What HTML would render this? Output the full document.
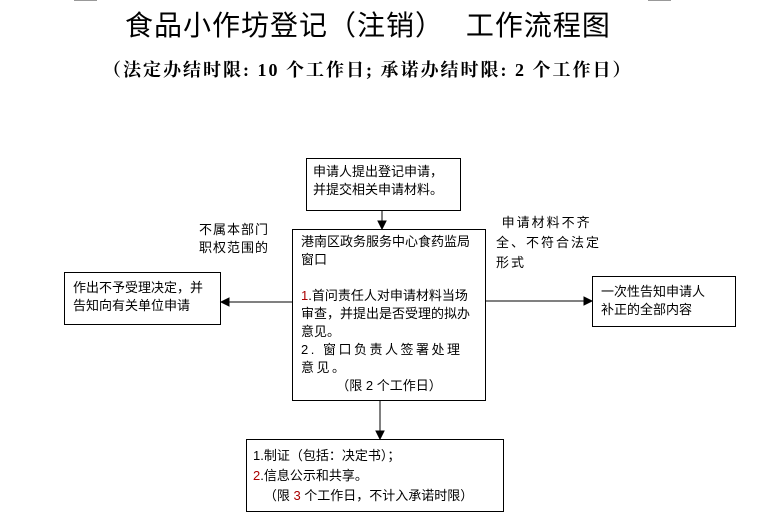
<!DOCTYPE html>
<html><head><meta charset="utf-8"><style>
body{margin:0;width:767px;height:518px;background:#fff;position:relative;overflow:hidden;font-family:"Liberation Sans","Noto Sans CJK SC",sans-serif;color:#000}
.a{position:absolute}
.box{position:absolute;border:1px solid #000;box-sizing:border-box;font-size:13px;line-height:18px}
.t{font-size:13px;line-height:18px;position:absolute}
</style></head><body>
<div class="a" style="left:74px;top:0;width:23px;height:1px;background:#999"></div>
<div class="a" style="left:648px;top:0;width:23px;height:1px;background:#999"></div>
<div class="a" style="left:125px;top:5px;white-space:nowrap;font-size:28px;line-height:38px;font-family:'Noto Sans CJK SC',sans-serif;letter-spacing:1px">食品小作坊登记（注销）&nbsp;&nbsp;&nbsp;工作流程图</div>
<div class="a" style="left:103px;top:58px;white-space:nowrap;font-size:18px;font-weight:bold;line-height:24px;font-family:'Liberation Serif','Noto Serif CJK SC',serif;letter-spacing:2px">（法定办结时限: 10 个工作日; 承诺办结时限: 2 个工作日）</div>

<div class="box" style="left:306px;top:158px;width:155px;height:53px;padding:4px 6px">申请人提出登记申请，<br>并提交相关申请材料。</div>
<div class="box" style="left:292px;top:229px;width:194px;height:172px;padding:3px 8px">港南区政务服务中心食药监局窗口<br><br><span style="color:#a00">1</span>.首问责任人对申请材料当场审查，并提出是否受理的拟办意见。<br><span style="letter-spacing:2.5px">2. 窗口负责人签署处理意见。</span><br><div style="text-align:center">（限 2 个工作日）</div></div>
<div class="box" style="left:64px;top:272px;width:157px;height:53px;padding:6px 8px">作出不予受理决定，并告知向有关单位申请</div>
<div class="box" style="left:592px;top:276px;width:144px;height:51px;padding:6px 8px">一次性告知申请人<br>补正的全部内容</div>
<div class="box" style="left:246px;top:439px;width:258px;height:73px;padding:6px 6px;line-height:20px">1.制证（包括：决定书）；<br><span style="color:#a00">2</span>.信息公示和共享。<br>&nbsp;&nbsp;&nbsp;（限 <span style="color:#a00">3</span> 个工作日，不计入承诺时限）</div>

<div class="t" style="left:199px;top:221px;width:80px;letter-spacing:1px">不属本部门<br>职权范围的</div>
<div class="t" style="left:496px;top:213px;width:120px;line-height:20px;letter-spacing:2px">&nbsp;申请材料不齐<br>全、不符合法定<br>形式</div>

<svg class="a" style="left:0;top:0" width="767" height="518">
<g stroke="#000" stroke-width="1" fill="#000">
<line x1="382" y1="211" x2="382" y2="223"/><polygon points="378,221 386,221 382,229"/>
<line x1="380" y1="401" x2="380" y2="432"/><polygon points="376,431 384,431 380,439"/>
<line x1="292" y1="302" x2="227" y2="302"/><polygon points="229,298 229,306 221,302"/>
<line x1="486" y1="301" x2="585" y2="301"/><polygon points="584,297 584,305 592,301"/>
</g></svg>
</body></html>
